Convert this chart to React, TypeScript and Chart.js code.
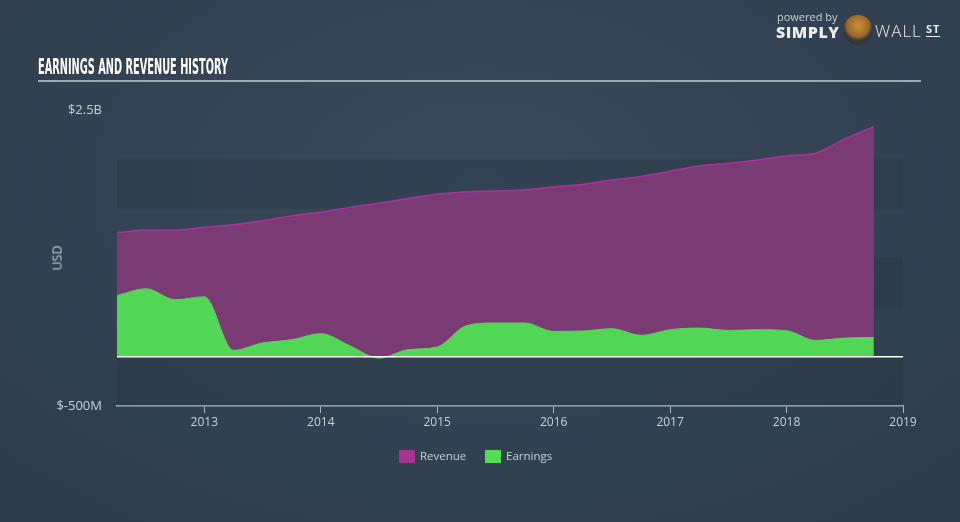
import React, { useEffect, useRef } from "react";
import { Chart, registerables } from "chart.js";

Chart.register(...registerables);

// ---- data (values in billions USD) ----
const quarters = [
  2012.25, 2012.5, 2012.75, 2013, 2013.25, 2013.5, 2013.75, 2014, 2014.25,
  2014.5, 2014.75, 2015, 2015.25, 2015.5, 2015.75, 2016, 2016.25, 2016.5,
  2016.75, 2017, 2017.25, 2017.5, 2017.75, 2018, 2018.25, 2018.5, 2018.75,
];
const revenue = [
  1.258, 1.28, 1.282, 1.311, 1.336, 1.377, 1.427, 1.463, 1.513, 1.556, 1.603,
  1.645, 1.672, 1.68, 1.69, 1.721, 1.746, 1.791, 1.827, 1.88, 1.933, 1.96,
  1.994, 2.034, 2.062, 2.206, 2.331,
];
const earnings = [
  0.62, 0.688, 0.577, 0.607, 0.064, 0.139, 0.172, 0.233, 0.111, -0.015, 0.071,
  0.098, 0.314, 0.341, 0.341, 0.256, 0.26, 0.283, 0.216, 0.273, 0.29, 0.266,
  0.273, 0.263, 0.165, 0.189, 0.195,
];
const yearTicks = [2013, 2014, 2015, 2016, 2017, 2018, 2019];
const yTickValues = [-0.5, 2.5];
const darkBands: [number, number][] = [
  [2.0, 1.5],
  [1.0, 0.5],
  [0, -0.5],
];

const LABEL_COLOR = "#c9d1d9";
const FONT = "'Open Sans', sans-serif";

function fmtY(v: number): string {
  if (Math.abs(v) >= 1) return "$" + v + "B";
  return "$" + Math.round(v * 1000) + "M";
}

const bandsPlugin = {
  id: "bands",
  beforeDatasetsDraw(chart: any) {
    const { ctx, chartArea, scales } = chart;
    const y = scales.y;
    ctx.save();
    ctx.fillStyle = "rgba(30, 42, 56, 0.22)";
    for (const [a, b] of darkBands) {
      const ya = y.getPixelForValue(a);
      const yb = y.getPixelForValue(b);
      ctx.fillRect(chartArea.left, ya, chartArea.right - chartArea.left, yb - ya);
    }
    ctx.restore();
  },
};

const zeroLinePlugin = {
  id: "zeroLine",
  afterDatasetsDraw(chart: any) {
    const { ctx, chartArea, scales } = chart;
    const y0 = scales.y.getPixelForValue(0);
    ctx.save();
    ctx.strokeStyle = "#ffffff";
    ctx.lineWidth = 1.5;
    ctx.beginPath();
    ctx.moveTo(chartArea.left, y0);
    ctx.lineTo(chartArea.right, y0);
    ctx.stroke();
    ctx.restore();
  },
};

export default function App() {
  const canvasRef = useRef<HTMLCanvasElement | null>(null);
  const titleRef = useRef<HTMLDivElement | null>(null);

  useEffect(() => {
    if (titleRef.current) {
      const w = titleRef.current.getBoundingClientRect().width;
      if (w > 0) titleRef.current.style.transform = `scaleX(${190 / w})`;
    }
    const canvas = canvasRef.current;
    if (!canvas) return;
    const chart = new Chart(canvas, {
      type: "line",
      data: {
        datasets: [
          {
            label: "Revenue",
            data: quarters.map((q, i) => ({ x: q, y: revenue[i] })),
            borderColor: "#a9359b",
            borderWidth: 1.5,
            backgroundColor: "#7a3a74",
            fill: { target: "origin" },
            cubicInterpolationMode: "monotone",
            pointRadius: 0,
            order: 1,
          },
          {
            label: "Earnings",
            data: quarters.map((q, i) => ({ x: q, y: earnings[i] })),
            borderColor: "#55d858",
            borderWidth: 1,
            backgroundColor: "#52d655",
            fill: { target: "origin", above: "#52d655", below: "#e0453c" },
            cubicInterpolationMode: "monotone",
            pointRadius: 0,
            order: 0,
          },
        ],
      },
      options: {
        animation: false,
        responsive: false,
        maintainAspectRatio: false,
        layout: { padding: { left: 0, right: 57, top: 110, bottom: 0 } },
        plugins: {
          legend: { display: false },
          tooltip: { enabled: false },
        },
        scales: {
          x: {
            type: "linear",
            min: 2012.25,
            max: 2019,
            afterBuildTicks: (s: any) => {
              s.ticks = yearTicks.map((v) => ({ value: v }));
            },
            afterFit: (s: any) => {
              s.height = 116;
            },
            grid: {
              drawOnChartArea: false,
              drawTicks: true,
              tickLength: 7,
              color: "#aeb8c3",
              lineWidth: 1,
            },
            border: { display: true, color: "#aeb8c3", width: 1.5 },
            ticks: {
              color: LABEL_COLOR,
              font: { family: FONT, size: 12 },
              padding: 2,
              maxRotation: 0,
              autoSkip: false,
              callback: (v: any) => String(v),
            },
          },
          y: {
            min: -0.5,
            max: 2.5,
            afterBuildTicks: (s: any) => {
              s.ticks = yTickValues.map((v) => ({ value: v }));
            },
            afterFit: (s: any) => {
              s.width = 117;
            },
            grid: { display: false, drawTicks: false },
            border: { display: false },
            ticks: {
              color: LABEL_COLOR,
              font: { family: FONT, size: 13 },
              padding: 15,
              callback: (v: any) => fmtY(Number(v)),
            },
          },
        },
      } as any,
      plugins: [bandsPlugin, zeroLinePlugin],
    });
    return () => chart.destroy();
  }, []);

  const abs = (s: React.CSSProperties): React.CSSProperties => ({ position: "absolute", ...s });

  return (
    <div
      style={{
        position: "fixed",
        left: 0,
        top: 0,
        width: 960,
        height: 522,
        overflow: "hidden",
        background: "radial-gradient(ellipse 70% 80% at 50% 35%, #3a4a5b 0%, #334353 55%, #2e3b49 100%)",
        fontFamily: FONT,
      }}
    >
      <canvas ref={canvasRef} width={960} height={522} style={abs({ left: 0, top: 0, width: 960, height: 522 })} />

      {/* title */}
      <div
        ref={titleRef}
        style={abs({
          left: 38,
          top: 56,
          fontFamily: "'Liberation Sans Narrow', 'DejaVu Sans Condensed', sans-serif",
          fontWeight: 700,
          fontSize: 22,
          lineHeight: "22px",
          color: "#ffffff",
          whiteSpace: "nowrap",
          transformOrigin: "0 0",
        })}
      >
        EARNINGS AND REVENUE HISTORY
      </div>
      <div style={abs({ left: 38, top: 80, width: 883, height: 2, background: "#9ea8b3" })} />

      {/* y axis title */}
      <div
        style={abs({
          left: 57,
          top: 258,
          transform: "translate(-50%, -50%) rotate(-90deg)",
          color: LABEL_COLOR,
          fontSize: 12.5,
          whiteSpace: "nowrap",
        })}
      >
        USD
      </div>

      {/* legend */}
      <div style={abs({ left: 399, top: 450, width: 16, height: 13, background: "#a8328f" })} />
      <div style={abs({ left: 420, top: 447, fontSize: 11.5, lineHeight: "18px", color: LABEL_COLOR })}>Revenue</div>
      <div style={abs({ left: 485, top: 450, width: 16, height: 13, background: "#52e052" })} />
      <div style={abs({ left: 506, top: 447, fontSize: 11.5, lineHeight: "18px", color: LABEL_COLOR })}>Earnings</div>

      {/* logo */}
      <div style={abs({ left: 777, top: 10, fontSize: 11, lineHeight: "14px", color: "#c9ced4" })}>powered by</div>
      <div
        style={abs({
          left: 776,
          top: 22,
          fontSize: 16,
          lineHeight: "20px",
          fontWeight: 800,
          color: "#e9ecef",
          letterSpacing: 0.5,
        })}
      >
        SIMPLY
      </div>
      <div
        style={abs({
          left: 843,
          top: 15,
          width: 30,
          height: 30,
          borderRadius: "50%",
          background: "radial-gradient(circle at 50% 35%, #c98f3c 0%, #9a6a2a 45%, #3a3a3a 60%, #2a2a2a 100%)",
        })}
      />
      <div
        style={abs({
          left: 875,
          top: 21,
          fontSize: 17,
          lineHeight: "20px",
          fontWeight: 300,
          color: "#e9ecef",
          letterSpacing: 1,
        })}
      >
        WALL
      </div>
      <div
        style={abs({
          left: 926,
          top: 22,
          fontSize: 11,
          lineHeight: "14px",
          fontWeight: 700,
          color: "#e9ecef",
          letterSpacing: 1,
          borderBottom: "1.5px solid #e9ecef",
        })}
      >
        ST
      </div>
    </div>
  );
}
